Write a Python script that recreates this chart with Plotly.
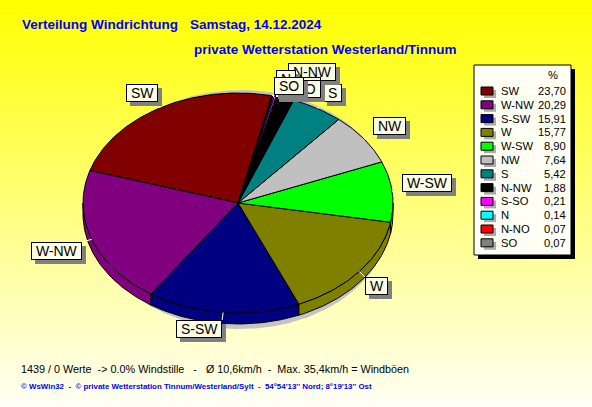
import base64
import numpy as np
import plotly.graph_objects as go

# ---------------- data ----------------
directions = ["SW", "W-NW", "S-SW", "W", "W-SW", "NW", "S", "N-NW", "S-SO", "N", "N-NO", "SO"]
percent = [23.70, 20.29, 15.91, 15.77, 8.90, 7.64, 5.42, 1.88, 0.21, 0.14, 0.07, 0.07]
colors = ["#800000", "#800080", "#000080", "#808000", "#00FF00", "#C0C0C0",
          "#008080", "#000000", "#FF00FF", "#00FFFF", "#FF0000", "#808080"]

title_left = "Verteilung Windrichtung"
title_date = "Samstag, 14.12.2024"
subtitle = "private Wetterstation Westerland/Tinnum"
footer_stats = "1439 / 0 Werte  -> 0.0% Windstille   -   Ø 10,6km/h  -  Max. 35,4km/h = Windböen"
footer_credit = "© WsWin32  -  © private Wetterstation Tinnum/Westerland/Sylt  -  54°54'13'' Nord; 8°19'13'' Ost"
legend_header = "%"

# ---------------- geometry / style ----------------
W, H = 592, 407
CX, CY, RX, RY, DEPTH = 238.0, 203.0, 155.0, 110.0, 11.0
START = 77.5  # parametric start angle (deg), slices go counter-clockwise
FONT = "Liberation Sans, Arial, sans-serif"

label_offsets = {"SW": (-2.5, -5.7), "W-NW": (-10, 2.5), "S-SW": (-1, 7.5), "W": (5.5, 5.7),
                 "W-SW": (10, 0.5), "NW": (9, -3.7), "S": (6, -6.4), "N-NW": (3, -17),
                 "S-SO": (2, -1), "N": (2, -8), "N-NO": (2.5, 2), "SO": (2, -1)}


def nb(s):
    return s.replace(" ", "\u00a0")


def arc(t0, t1, dy=0.0, cx=CX, cy=CY, rx=RX, ry=RY):
    n = max(2, int(abs(t1 - t0) / 0.8) + 2)
    t = np.radians(np.linspace(t0, t1, n))
    return cx + rx * np.cos(t), cy - ry * np.sin(t) + dy


fig = go.Figure()

# pie shadow
sx1, sy1 = arc(0, 180, 0, CX + 3, CY - 2, RX - 6, RY + 1)
sx2, sy2 = arc(180, 360, DEPTH + 6, CX + 3, CY - 2, RX - 6, RY + 1)
fig.add_trace(go.Scatter(x=np.concatenate([sx1, sx2]), y=np.concatenate([sy1, sy2]),
                         fill="toself", fillcolor="#C4C4C4", mode="lines",
                         line=dict(width=0, color="rgba(0,0,0,0)"), hoverinfo="skip",
                         showlegend=False))

total = float(sum(percent))
cum = np.concatenate([[0.0], np.cumsum(percent)])
t_start = START + 360.0 * cum[:-1] / total
t_end = START + 360.0 * cum[1:] / total

# side walls (front half of the 3D pie)
for i in range(len(percent)):
    a, b = max(t_start[i], 180.0), min(t_end[i], 360.0)
    if b > a:
        x1, y1 = arc(a, b)
        x2, y2 = arc(b, a, DEPTH)
        fig.add_trace(go.Scatter(x=np.concatenate([x1, x2, x1[:1]]),
                                 y=np.concatenate([y1, y2, y1[:1]]),
                                 fill="toself", fillcolor=colors[i], mode="lines",
                                 line=dict(width=1, color="black"), hoverinfo="skip",
                                 showlegend=False))

# top faces
for i in range(len(percent)):
    x1, y1 = arc(t_start[i], t_end[i])
    fig.add_trace(go.Scatter(x=np.concatenate([[CX], x1, [CX]]),
                             y=np.concatenate([[CY], y1, [CY]]),
                             fill="toself", fillcolor=colors[i], mode="lines",
                             line=dict(width=1, color="black"), hoverinfo="skip",
                             showlegend=False))

shapes = []
annotations = []

# labels with leader lines
for i, name in enumerate(directions):
    tm = np.radians((t_start[i] + t_end[i]) / 2.0)
    px, py = CX + RX * np.cos(tm), CY - RY * np.sin(tm)
    ox, oy = label_offsets[name]
    bx, by = px + ox, py + oy
    shapes.append(dict(type="line", xref="x", yref="y", x0=px, y0=py, x1=bx, y1=by,
                       line=dict(color="white", width=1), layer="above"))
    xa = "left" if np.cos(tm) >= 0 else "right"
    ya = "bottom" if np.sin(tm) >= 0 else "top"
    txt = "\u00a0" + name + "\u00a0"
    annotations.append(dict(x=bx, y=by, xref="x", yref="y", text=txt, showarrow=False,
                            xanchor=xa, yanchor=ya, xshift=4, yshift=-4,
                            font=dict(family=FONT, size=14, color="#808080"),
                            bgcolor="#808080", bordercolor="#808080", borderwidth=1,
                            borderpad=0))
    annotations.append(dict(x=bx, y=by, xref="x", yref="y", text=txt, showarrow=False,
                            xanchor=xa, yanchor=ya,
                            font=dict(family=FONT, size=14, color="black"),
                            bgcolor="#FFFFE6", bordercolor="black", borderwidth=1,
                            borderpad=0))

# legend panel
LX0, LX1, LY0, LY1 = 474, 571, 65, 255
shapes.append(dict(type="rect", xref="x", yref="y", x0=LX0 + 4, x1=LX1 + 4, y0=LY0 + 4,
                   y1=LY1 + 4, fillcolor="black", line=dict(width=0), layer="above"))
shapes.append(dict(type="rect", xref="x", yref="y", x0=LX0, x1=LX1, y0=LY0, y1=LY1,
                   fillcolor="#FFFFF4", line=dict(width=1, color="black"), layer="above"))
annotations.append(dict(x=553, y=75, xref="x", yref="y", text=legend_header, showarrow=False,
                        xanchor="center", yanchor="middle",
                        font=dict(family=FONT, size=11.2, color="black")))
ROW0, DROW = 91.0, 13.8
for i, name in enumerate(directions):
    ry = ROW0 + DROW * i
    shapes.append(dict(type="rect", xref="x", yref="y", x0=484, x1=496, y0=ry - 1, y1=ry + 7,
                       fillcolor="#ABABAB", line=dict(width=0), layer="above"))
    shapes.append(dict(type="rect", xref="x", yref="y", x0=481, x1=493, y0=ry - 4, y1=ry + 4,
                       fillcolor=colors[i], line=dict(width=1, color="black"), layer="above"))
    annotations.append(dict(x=499, y=ry, xref="x", yref="y", text=name, showarrow=False,
                            xanchor="left", yanchor="middle",
                            font=dict(family=FONT, size=11.2, color="black")))
    annotations.append(dict(x=568, y=ry, xref="x", yref="y",
                            text=f"{percent[i]:.2f}".replace(".", ","), showarrow=False,
                            xanchor="right", yanchor="middle",
                            font=dict(family=FONT, size=11.2, color="black")))

# titles and footer
TFONT = dict(family="Liberation Sans, Arial, sans-serif", size=13.5, color="#0000FF")
annotations.append(dict(x=20, y=24, xref="x", yref="y", text="<b>" + title_left + "</b>",
                        showarrow=False, xanchor="left", yanchor="middle", font=TFONT))
annotations.append(dict(x=188, y=24, xref="x", yref="y", text="<b>" + title_date + "</b>",
                        showarrow=False, xanchor="left", yanchor="middle", font=TFONT))
annotations.append(dict(x=192, y=49, xref="x", yref="y", text="<b>" + subtitle + "</b>",
                        showarrow=False, xanchor="left", yanchor="middle", font=TFONT))
annotations.append(dict(x=19, y=369, xref="x", yref="y", text=nb(footer_stats),
                        showarrow=False, xanchor="left", yanchor="middle",
                        font=dict(family=FONT, size=10.8, color="black")))
annotations.append(dict(x=19, y=386, xref="x", yref="y", text="<b>" + nb(footer_credit) + "</b>",
                        showarrow=False, xanchor="left", yanchor="middle",
                        font=dict(family=FONT, size=7.9, color="#0000FF")))

svg = (f'<svg xmlns="http://www.w3.org/2000/svg" width="{W}" height="{H}" '
       f'preserveAspectRatio="none" viewBox="0 0 {W} {H}">'
       '<defs><linearGradient id="g" x1="0" y1="0" x2="0" y2="1">'
       '<stop offset="0" stop-color="#FFFF00"/><stop offset="1" stop-color="#FFFFF6"/>'
       '</linearGradient></defs>'
       f'<rect width="{W}" height="{H}" fill="url(#g)"/></svg>')
bg_src = "data:image/svg+xml;base64," + base64.b64encode(svg.encode()).decode()

fig.update_layout(
    width=W, height=H, margin=dict(l=0, r=0, t=0, b=0),
    paper_bgcolor="#FFFF90", plot_bgcolor="rgba(0,0,0,0)",
    xaxis=dict(range=[0, W], visible=False, fixedrange=True),
    yaxis=dict(range=[H, 0], visible=False, fixedrange=True),
    shapes=shapes, annotations=annotations, showlegend=False,
    images=[dict(source=bg_src, xref="paper", yref="paper", x=0, y=1, sizex=1, sizey=1,
                 xanchor="left", yanchor="top", sizing="stretch", layer="below")],
)

fig.write_html("out.html", config={"displayModeBar": False},
               post_script="document.body.style.margin='0';document.body.style.overflow='hidden';")
